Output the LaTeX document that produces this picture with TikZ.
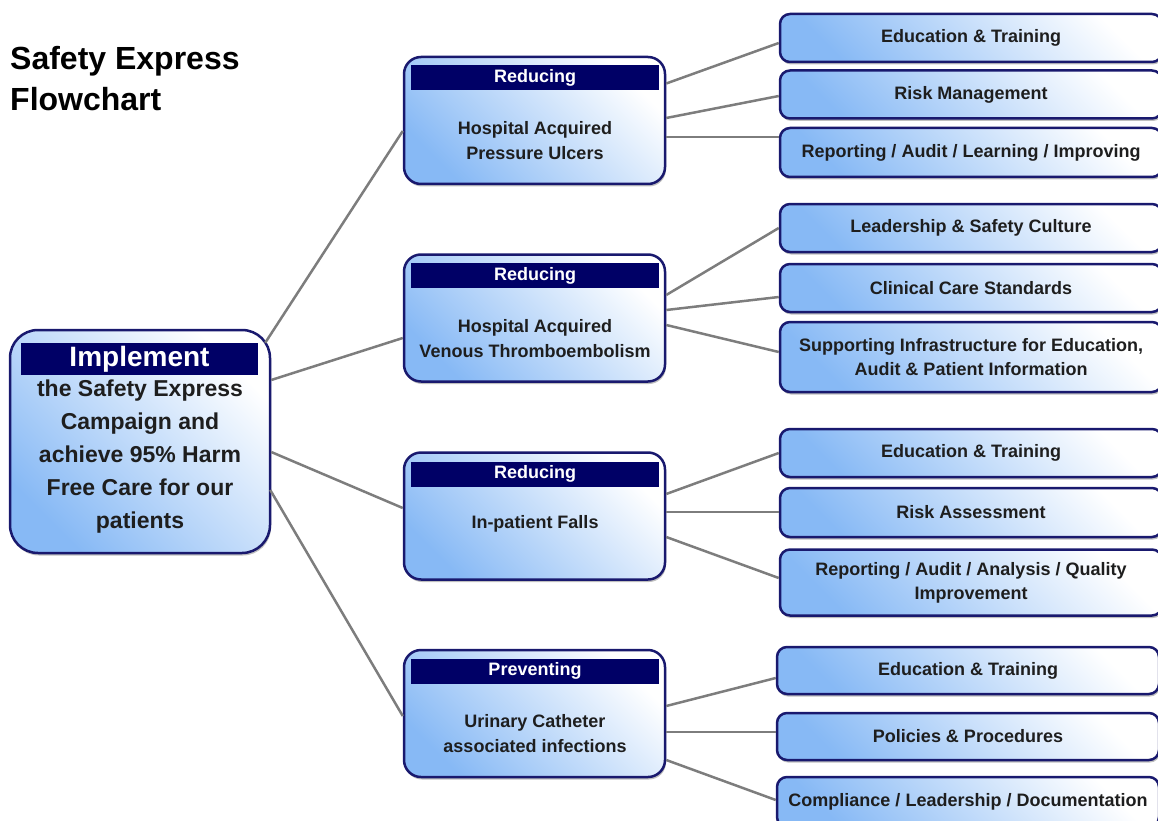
\documentclass[tikz,border=0pt]{standalone}
\usepackage{fontspec}
\setmainfont{Liberation Sans}
\usetikzlibrary{shadows}
\definecolor{navybar}{RGB}{0,0,102}
\definecolor{bordr}{RGB}{25,25,110}
\definecolor{boxblue}{RGB}{135,185,245}
\definecolor{linegray}{RGB}{125,125,125}
\definecolor{txt}{RGB}{30,30,30}
\begin{document}
\begin{tikzpicture}[x=1pt,y=-1pt,
  shaded/.style={draw=bordr, line width=2.5pt, top color=boxblue, bottom color=white, shading angle=135,
     drop shadow={shadow xshift=1pt, shadow yshift=-2.5pt, fill=black!50, opacity=0.5}},
  leftbox/.style={shaded, rounded corners=28pt, minimum width=260pt, minimum height=223pt, inner sep=0pt},
  midbox/.style={shaded, rounded corners=17pt, minimum width=261pt, minimum height=127pt, inner sep=0pt},
  rbox/.style={shaded, rounded corners=10pt, minimum width=382pt, inner sep=0pt, text=txt,
     font=\bfseries\fontsize{18}{24}\selectfont, align=center},
  bar/.style={fill=navybar, inner sep=0pt, text=white, font=\bfseries\fontsize{18}{20}\selectfont},
  bodytext/.style={text=txt, font=\bfseries\fontsize{18}{25}\selectfont, align=center, inner sep=0pt},
  conn/.style={draw=linegray, line width=2.5pt}]
\useasboundingbox (0,0) rectangle (1158,821);
\clip (0,0) rectangle (1158,821);

% title
\node[anchor=west, font=\bfseries\fontsize{32}{41}\selectfont, align=left, text=black, inner sep=0pt] (title) at (10,79) {Safety Express\\Flowchart};

% left box
\node[leftbox] (L) at (140,441.5) {};
\node[bar, minimum width=237pt, minimum height=32pt, font=\bfseries\fontsize{28}{30}\selectfont] (Lbar) at (139.5,359) {Implement};
\node[bodytext, font=\bfseries\fontsize{23}{33}\selectfont] (Ltext) at (140,457) {the Safety Express\\Campaign and\\achieve 95\% Harm\\Free Care for our\\patients};

% middle boxes
\node[midbox] (M1) at (534.5,120.5) {};
\node[bar, minimum width=248pt, minimum height=25pt] (M1bar) at (535,77.5) {Reducing};
\node[bodytext] (M1text) at (535,141) {Hospital Acquired\\Pressure Ulcers};

\node[midbox] (M2) at (534.5,318) {};
\node[bar, minimum width=248pt, minimum height=25pt] (M2bar) at (535,275.5) {Reducing};
\node[bodytext] (M2text) at (535,339) {Hospital Acquired\\Venous Thromboembolism};

\node[midbox] (M3) at (534.5,516) {};
\node[bar, minimum width=248pt, minimum height=25pt] (M3bar) at (535,474) {Reducing};
\node[bodytext] (M3text) at (535,524) {In-patient Falls};

\node[midbox] (M4) at (534.5,713.5) {};
\node[bar, minimum width=248pt, minimum height=25pt] (M4bar) at (535,671) {Preventing};
\node[bodytext] (M4text) at (535,734) {Urinary Catheter\\associated infections};

% right boxes
\node[rbox, minimum height=48pt] (R1a) at (971,38) {Education \& Training};
\node[rbox, minimum height=48pt] (R1b) at (971,94.5) {Risk Management};
\node[rbox, minimum height=49pt] (R1c) at (971,152.5) {Reporting / Audit / Learning / Improving};

\node[rbox, minimum height=48pt] (R2a) at (971,228) {Leadership \& Safety Culture};
\node[rbox, minimum height=48pt] (R2b) at (971,288) {Clinical Care Standards};
\node[rbox, minimum height=70pt] (R2c) at (971,357) {Supporting Infrastructure for Education,\\Audit \& Patient Information};

\node[rbox, minimum height=48pt] (R3a) at (971,453) {Education \& Training};
\node[rbox, minimum height=49pt] (R3b) at (971,512.5) {Risk Assessment};
\node[rbox, minimum height=66pt] (R3c) at (971,582.5) {Reporting / Audit / Analysis / Quality\\Improvement};

\node[rbox, minimum height=47pt] (R4a) at (968,670.5) {Education \& Training};
\node[rbox, minimum height=47pt] (R4b) at (968,736.5) {Policies \& Procedures};
\node[rbox, minimum height=50pt] (R4c) at (968,802) {Compliance / Leadership / Documentation};

% connectors left -> middle
\draw[conn] ([xshift=-6pt,yshift=-14pt]L.north east) -- ([yshift=-10.5pt]M1.west);
\draw[conn] ([yshift=61.5pt]L.east) -- ([yshift=-20pt]M2.west);
\draw[conn] ([yshift=-10.5pt]L.east) -- ([yshift=8pt]M3.west);
\draw[conn] ([xshift=-1pt,yshift=-48.5pt]L.east) -- ([yshift=-2.5pt]M4.west);

% middle -> right
\draw[conn] ([yshift=37pt]M1.east) -- ([yshift=-5pt]R1a.west);
\draw[conn] ([yshift=2.5pt]M1.east) -- ([yshift=-1.5pt]R1b.west);
\draw[conn] ([yshift=-16.5pt]M1.east) -- ([yshift=15.5pt]R1c.west);

\draw[conn] ([yshift=23pt]M2.east) -- (R2a.west);
\draw[conn] ([yshift=8pt]M2.east) -- ([yshift=-9pt]R2b.west);
\draw[conn] ([yshift=-7pt]M2.east) -- ([yshift=5pt]R2c.west);

\draw[conn] ([yshift=22pt]M3.east) -- ([yshift=0pt]R3a.west);
\draw[conn] ([yshift=4pt]M3.east) -- ([yshift=0.5pt]R3b.west);
\draw[conn] ([yshift=-21pt]M3.east) -- ([yshift=4.5pt]R3c.west);

\draw[conn] ([yshift=7.5pt]M4.east) -- ([yshift=-7.5pt]R4a.west);
\draw[conn] ([yshift=-18.5pt]M4.east) -- ([yshift=4.5pt]R4b.west);
\draw[conn] ([yshift=-46.5pt]M4.east) -- ([yshift=2pt]R4c.west);
\end{tikzpicture}
\end{document}
